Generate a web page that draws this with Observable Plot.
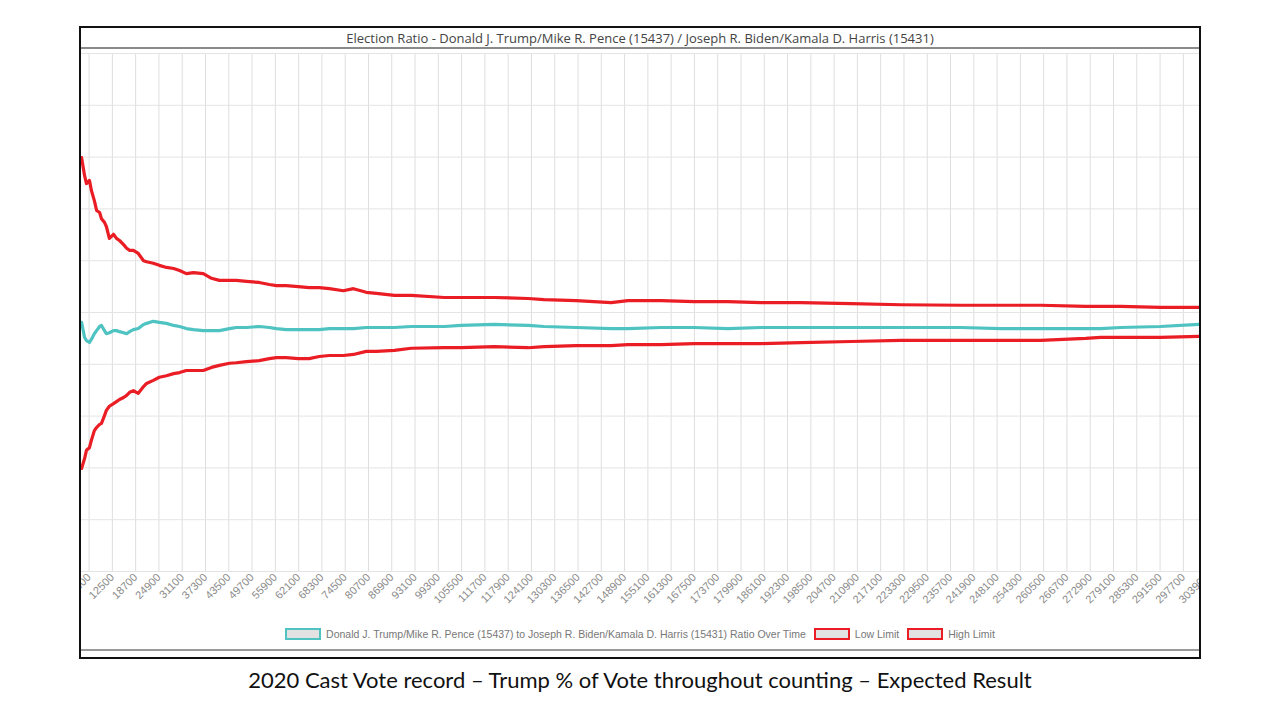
<!DOCTYPE html>
<html>
<head>
<meta charset="utf-8">
<script src="https://cdn.jsdelivr.net/npm/d3@7"></script>
<script src="https://cdn.jsdelivr.net/npm/@observablehq/plot@0.6"></script>
<style>
  html, body { margin: 0; padding: 0; background: #fff; width: 1280px; height: 720px; overflow: hidden; }
  #frame { position: absolute; left: 79px; top: 26px; width: 1118px; height: 629px; border: 2px solid #111; background: #fff; }
  #title { height: 19px; line-height: 20px; text-align: center; font-family: "Open Sans", "DejaVu Sans", sans-serif; font-size: 13px; font-weight: 500; color: #444; border-bottom: 2px solid #8a8a8a; }
  #chart svg { display: block; overflow: hidden; }
  #legend { height: 30px; display: flex; justify-content: center; align-items: center; font-family: "Liberation Sans Narrow", "Liberation Sans", Arial, sans-serif; font-size: 10.5px; color: #777; border-bottom: 2px solid #9a9a9a; }
  .sw { display: inline-block; width: 32px; height: 8px; background: #e2e2e2; margin-right: 5px; }
  .item { display: flex; align-items: center; margin: 0 4px; }
  #caption { position: absolute; left: 0; top: 666px; width: 1280px; text-align: center; font-family: Lato, "Open Sans", sans-serif; font-size: 22px; color: #111; }
</style>
</head>
<body>
<div id="frame">
  <div id="title">Election Ratio - Donald J. Trump/Mike R. Pence (15437) / Joseph R. Biden/Kamala D. Harris (15431)</div>
  <div id="chart"></div>
  <div id="legend"></div>
</div>
<div id="caption">2020 Cast Vote record – Trump % of Vote throughout counting – Expected Result</div>
<script>
// Votes counted (x)
const votesCounted = [4300, 5100, 5600, 6400, 6900, 7700, 8300, 9100, 9600, 10400, 10900, 11700, 12800, 13600, 14400, 15500, 16300, 17100, 18100, 19400, 20800, 21600, 23400, 25000, 26900, 28800, 30400, 32200, 34100, 36700, 38900, 41000, 43700, 45500, 48200, 51600, 54300, 56200, 58800, 62000, 64900, 67600, 70300, 74000, 76700, 80100, 82800, 87600, 92100, 100900, 105400, 114200, 123200, 127500, 136000, 145300, 149800, 158600, 167400, 176400, 185200, 195900, 209200, 222500, 238400, 249100, 259700, 271700, 275700, 281000, 291600, 301800];

// Trump/Biden ratio over time (%)
const ratioSeries = [48.1, 45.2, 44.6, 44.2, 44.8, 45.9, 46.5, 47.3, 47.5, 46.5, 45.9, 46.1, 46.5, 46.5, 46.3, 46.1, 45.9, 46.3, 46.7, 46.9, 47.7, 47.9, 48.3, 48.1, 47.9, 47.5, 47.3, 46.9, 46.7, 46.5, 46.5, 46.5, 46.9, 47.1, 47.1, 47.3, 47.1, 46.9, 46.7, 46.7, 46.7, 46.7, 46.9, 46.9, 46.9, 47.1, 47.1, 47.1, 47.3, 47.3, 47.5, 47.7, 47.5, 47.3, 47.1, 46.9, 46.9, 47.1, 47.1, 46.9, 47.1, 47.1, 47.1, 47.1, 47.1, 46.9, 46.9, 46.9, 46.9, 47.1, 47.3, 47.7];

// Low limit (%)
const lowLimit = [19.9, 21.8, 23.4, 23.9, 25.3, 27.2, 27.8, 28.4, 28.6, 30.1, 31.1, 31.9, 32.4, 32.8, 33.2, 33.6, 34.0, 34.6, 34.9, 34.4, 35.7, 36.3, 36.9, 37.5, 37.8, 38.2, 38.4, 38.8, 38.8, 38.8, 39.4, 39.8, 40.2, 40.3, 40.5, 40.7, 41.1, 41.3, 41.3, 41.1, 41.1, 41.5, 41.7, 41.7, 41.9, 42.5, 42.5, 42.7, 43.1, 43.2, 43.2, 43.4, 43.2, 43.4, 43.6, 43.6, 43.8, 43.8, 44.0, 44.0, 44.0, 44.2, 44.4, 44.6, 44.6, 44.6, 44.6, 45.0, 45.2, 45.2, 45.2, 45.4];

// High limit (%)
const highLimit = [79.9, 76.4, 74.9, 75.5, 73.6, 71.6, 69.7, 69.3, 68.1, 67.4, 66.6, 64.3, 65.1, 64.3, 63.9, 63.1, 62.4, 62.0, 62.0, 61.4, 60.0, 59.8, 59.5, 59.1, 58.7, 58.5, 58.1, 57.5, 57.7, 57.5, 56.6, 56.2, 56.2, 56.2, 56.0, 55.8, 55.4, 55.2, 55.2, 55.0, 54.8, 54.8, 54.6, 54.2, 54.6, 53.9, 53.7, 53.3, 53.3, 52.9, 52.9, 52.9, 52.7, 52.5, 52.3, 51.9, 52.3, 52.3, 52.1, 52.1, 51.9, 51.9, 51.7, 51.5, 51.4, 51.4, 51.4, 51.2, 51.2, 51.2, 51.0, 51.0];

const xTicks = [6300, 12500, 18700, 24900, 31100, 37300, 43500, 49700, 55900, 62100, 68300, 74500, 80700, 86900, 93100, 99300, 105500, 111700, 117900, 124100, 130300, 136500, 142700, 148900, 155100, 161300, 167500, 173700, 179900, 186100, 192300, 198500, 204700, 210900, 217100, 223300, 229500, 235700, 241900, 248100, 254300, 260500, 266700, 272900, 279100, 285300, 291500, 297700, 303900];
const yTicks = [0, 10, 20, 30, 40, 50, 60, 70, 80, 90, 100];

const seriesNames = [
  "Donald J. Trump/Mike R. Pence (15437) to Joseph R. Biden/Kamala D. Harris (15431) Ratio Over Time",
  "Low Limit",
  "High Limit"
];
const seriesColors = ["#4fc3c1", "#ea1c24", "#ea1c24"];

const rows = [];
[ratioSeries, lowLimit, highLimit].forEach((vals, s) => {
  vals.forEach((v, i) => rows.push({series: seriesNames[s], votes: votesCounted[i], value: v}));
});

const plot = Plot.plot({
  width: 1118,
  height: 570,
  marginLeft: 0,
  marginRight: 0,
  marginTop: 4,
  marginBottom: 48,
  x: {domain: [4280, 302000]},
  y: {domain: [0, 100], axis: null},
  color: {domain: seriesNames, range: seriesColors},
  marks: [
    Plot.gridX(xTicks, {stroke: "#dedede", strokeOpacity: 1, strokeWidth: 1}),
    Plot.gridY(yTicks, {stroke: "#e4e4e4", strokeOpacity: 1, strokeWidth: 1}),
    Plot.axisX(xTicks, {tickSize: 0, tickPadding: 4, tickRotate: -45, textAnchor: "end", tickFormat: d => String(d), fontSize: 11, fill: "#8a8a8a", fontFamily: "Liberation Sans, Arial, sans-serif", label: null}),
    Plot.line(rows, {x: "votes", y: "value", z: "series", stroke: "series", strokeWidth: 3.2, curve: "linear", clip: true})
  ]
});
document.getElementById("chart").appendChild(plot);

const legend = document.getElementById("legend");
seriesNames.forEach((name, i) => {
  const item = document.createElement("div");
  item.className = "item";
  const sw = document.createElement("span");
  sw.className = "sw";
  sw.style.border = "2px solid " + seriesColors[i];
  item.appendChild(sw);
  const t = document.createElement("span");
  t.textContent = name;
  item.appendChild(t);
  legend.appendChild(item);
});
</script>
</body>
</html>
